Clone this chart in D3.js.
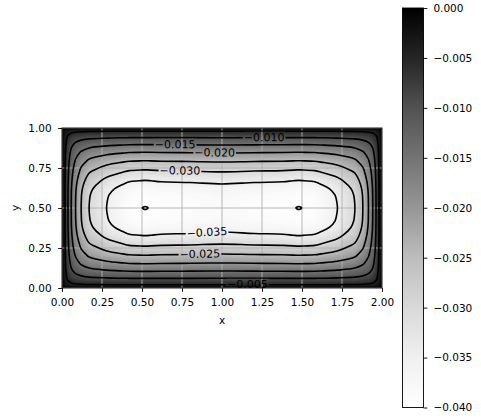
<!DOCTYPE html>
<html>
<head>
<meta charset="utf-8">
<script src="https://cdn.jsdelivr.net/npm/d3@7"></script>
<style>
  html, body { margin: 0; padding: 0; background: #fff; }
  svg text { font-family: "DejaVu Sans", sans-serif; fill: #000; }
</style>
</head>
<body>
<svg id="chart" width="481" height="419"></svg>
<script>
// Sample positions of the field (denser close to the walls and around the two minima)
const xNodes = [0, 0.019, 0.0375, 0.058, 0.085, 0.12, 0.17, 0.28, 0.38, 0.42, 0.52, 0.62, 0.8, 1.0,
                1.2, 1.38, 1.48, 1.58, 1.62, 1.72, 1.83, 1.88, 1.915, 1.942, 1.9625, 1.981, 2.0];
const yNodes = [0, 0.02, 0.06, 0.104, 0.152, 0.205, 0.262, 0.33, 0.38, 0.42, 0.48, 0.5,
                0.52, 0.58, 0.62, 0.67, 0.738, 0.795, 0.848, 0.896, 0.94, 0.98, 1.0];

// Field values u(x, y): one row per yNodes entry, bottom row first
const field = [
  [0, 0, 0, 0, 0, 0, 0, 0, 0, 0, 0, 0, 0, 0, 0, 0, 0, 0, 0, 0, 0, 0, 0, 0, 0, 0, 0],
  [0, -0.002671, -0.003643, -0.004146, -0.004453, -0.004660, -0.004810, -0.004922, -0.004978, -0.004997, -0.005008, -0.004997, -0.004991, -0.004981, -0.004991, -0.004997, -0.005008, -0.004997, -0.004978, -0.004922, -0.004810, -0.004660, -0.004453, -0.004146, -0.003643, -0.002671, 0],
  [0, -0.003643, -0.005726, -0.007074, -0.008018, -0.008716, -0.009253, -0.009680, -0.009898, -0.009972, -0.010015, -0.009972, -0.009951, -0.009911, -0.009951, -0.009972, -0.010015, -0.009972, -0.009898, -0.009680, -0.009253, -0.008716, -0.008018, -0.007074, -0.005726, -0.003643, 0],
  [0, -0.004146, -0.007074, -0.009253, -0.010938, -0.012279, -0.013371, -0.014282, -0.014761, -0.014925, -0.015023, -0.014925, -0.014879, -0.014790, -0.014879, -0.014925, -0.015023, -0.014925, -0.014761, -0.014282, -0.013371, -0.012279, -0.010938, -0.009253, -0.007074, -0.004146, 0],
  [0, -0.004453, -0.008018, -0.010938, -0.013371, -0.015432, -0.017198, -0.018735, -0.019568, -0.019858, -0.020030, -0.019858, -0.019776, -0.019619, -0.019776, -0.019858, -0.020030, -0.019858, -0.019568, -0.018735, -0.017198, -0.015432, -0.013371, -0.010938, -0.008018, -0.004453, 0],
  [0, -0.004660, -0.008716, -0.012279, -0.015432, -0.018243, -0.020764, -0.023046, -0.024319, -0.024769, -0.025038, -0.024769, -0.024642, -0.024399, -0.024642, -0.024769, -0.025038, -0.024769, -0.024319, -0.023046, -0.020764, -0.018243, -0.015432, -0.012279, -0.008716, -0.004660, 0],
  [0, -0.004810, -0.009253, -0.013371, -0.017198, -0.020764, -0.024094, -0.027223, -0.029016, -0.029659, -0.030045, -0.029659, -0.029477, -0.029131, -0.029477, -0.029659, -0.030045, -0.029659, -0.029016, -0.027223, -0.024094, -0.020764, -0.017198, -0.013371, -0.009253, -0.004810, 0],
  [0, -0.004925, -0.009689, -0.014302, -0.018770, -0.023098, -0.027295, -0.031380, -0.033788, -0.034663, -0.035192, -0.034663, -0.034415, -0.033943, -0.034415, -0.034663, -0.035192, -0.034663, -0.033788, -0.031380, -0.027295, -0.023098, -0.018770, -0.014302, -0.009689, -0.004925, 0],
  [0, -0.004978, -0.009898, -0.014761, -0.019568, -0.024319, -0.029016, -0.033677, -0.036465, -0.037486, -0.038105, -0.037486, -0.037196, -0.036646, -0.037196, -0.037486, -0.038105, -0.037486, -0.036465, -0.033677, -0.029016, -0.024319, -0.019568, -0.014761, -0.009898, -0.004978, 0],
  [0, -0.004998, -0.009977, -0.014937, -0.019878, -0.024801, -0.029705, -0.034609, -0.037560, -0.038644, -0.039303, -0.038644, -0.038336, -0.037752, -0.038336, -0.038644, -0.039303, -0.038644, -0.037560, -0.034609, -0.029705, -0.024801, -0.019878, -0.014937, -0.009977, -0.004998, 0],
  [0, -0.005006, -0.010010, -0.015011, -0.020010, -0.025006, -0.030001, -0.035009, -0.038032, -0.039144, -0.039820, -0.039144, -0.038828, -0.038230, -0.038828, -0.039144, -0.039820, -0.039144, -0.038032, -0.035009, -0.030001, -0.025006, -0.020010, -0.015011, -0.010010, -0.005006, 0],
  [0, -0.005008, -0.010015, -0.015023, -0.020030, -0.025038, -0.030045, -0.035070, -0.038105, -0.039222, -0.040170, -0.039222, -0.038904, -0.038303, -0.038904, -0.039222, -0.040170, -0.039222, -0.038105, -0.035070, -0.030045, -0.025038, -0.020030, -0.015023, -0.010015, -0.005008, 0],
  [0, -0.005006, -0.010010, -0.015011, -0.020010, -0.025006, -0.030001, -0.035009, -0.038032, -0.039144, -0.039820, -0.039144, -0.038828, -0.038230, -0.038828, -0.039144, -0.039820, -0.039144, -0.038032, -0.035009, -0.030001, -0.025006, -0.020010, -0.015011, -0.010010, -0.005006, 0],
  [0, -0.004998, -0.009977, -0.014937, -0.019878, -0.024801, -0.029705, -0.034609, -0.037560, -0.038644, -0.039303, -0.038644, -0.038336, -0.037752, -0.038336, -0.038644, -0.039303, -0.038644, -0.037560, -0.034609, -0.029705, -0.024801, -0.019878, -0.014937, -0.009977, -0.004998, 0],
  [0, -0.004978, -0.009898, -0.014761, -0.019568, -0.024319, -0.029016, -0.033677, -0.036465, -0.037486, -0.038105, -0.037486, -0.037196, -0.036646, -0.037196, -0.037486, -0.038105, -0.037486, -0.036465, -0.033677, -0.029016, -0.024319, -0.019568, -0.014761, -0.009898, -0.004978, 0],
  [0, -0.004925, -0.009689, -0.014302, -0.018770, -0.023098, -0.027295, -0.031380, -0.033788, -0.034663, -0.035192, -0.034663, -0.034415, -0.033943, -0.034415, -0.034663, -0.035192, -0.034663, -0.033788, -0.031380, -0.027295, -0.023098, -0.018770, -0.014302, -0.009689, -0.004925, 0],
  [0, -0.004810, -0.009253, -0.013371, -0.017198, -0.020764, -0.024094, -0.027223, -0.029016, -0.029659, -0.030045, -0.029659, -0.029477, -0.029131, -0.029477, -0.029659, -0.030045, -0.029659, -0.029016, -0.027223, -0.024094, -0.020764, -0.017198, -0.013371, -0.009253, -0.004810, 0],
  [0, -0.004660, -0.008716, -0.012279, -0.015432, -0.018243, -0.020764, -0.023046, -0.024319, -0.024769, -0.025038, -0.024769, -0.024642, -0.024399, -0.024642, -0.024769, -0.025038, -0.024769, -0.024319, -0.023046, -0.020764, -0.018243, -0.015432, -0.012279, -0.008716, -0.004660, 0],
  [0, -0.004453, -0.008018, -0.010938, -0.013371, -0.015432, -0.017198, -0.018735, -0.019568, -0.019858, -0.020030, -0.019858, -0.019776, -0.019619, -0.019776, -0.019858, -0.020030, -0.019858, -0.019568, -0.018735, -0.017198, -0.015432, -0.013371, -0.010938, -0.008018, -0.004453, 0],
  [0, -0.004146, -0.007074, -0.009253, -0.010938, -0.012279, -0.013371, -0.014282, -0.014761, -0.014925, -0.015023, -0.014925, -0.014879, -0.014790, -0.014879, -0.014925, -0.015023, -0.014925, -0.014761, -0.014282, -0.013371, -0.012279, -0.010938, -0.009253, -0.007074, -0.004146, 0],
  [0, -0.003643, -0.005726, -0.007074, -0.008018, -0.008716, -0.009253, -0.009680, -0.009898, -0.009972, -0.010015, -0.009972, -0.009951, -0.009911, -0.009951, -0.009972, -0.010015, -0.009972, -0.009898, -0.009680, -0.009253, -0.008716, -0.008018, -0.007074, -0.005726, -0.003643, 0],
  [0, -0.002671, -0.003643, -0.004146, -0.004453, -0.004660, -0.004810, -0.004922, -0.004978, -0.004997, -0.005008, -0.004997, -0.004991, -0.004981, -0.004991, -0.004997, -0.005008, -0.004997, -0.004978, -0.004922, -0.004810, -0.004660, -0.004453, -0.004146, -0.003643, -0.002671, 0],
  [0, 0, 0, 0, 0, 0, 0, 0, 0, 0, 0, 0, 0, 0, 0, 0, 0, 0, 0, 0, 0, 0, 0, 0, 0, 0, 0]
];

const contourLevels = [-0.040, -0.035, -0.030, -0.025, -0.020, -0.015, -0.010, -0.005];
const xTicks = [0, 0.25, 0.5, 0.75, 1.0, 1.25, 1.5, 1.75, 2.0];
const yTicks = [0, 0.25, 0.5, 0.75, 1.0];
const colorbarTicks = [0, -0.005, -0.010, -0.015, -0.020, -0.025, -0.030, -0.035, -0.040];
// "Greys" colour ramp, light (low values) to dark (high values)
const greysStops = ["#ffffff", "#f0f0f0", "#d9d9d9", "#bdbdbd", "#969696", "#737373", "#525252", "#252525", "#000000"];
// Where the inline contour labels sit (data coordinates)
const labelSpots = [
  { level: -0.015, x: 0.706, y: 0.894 },
  { level: -0.020, x: 0.953, y: 0.842 },
  { level: -0.010, x: 1.265, y: 0.9375 },
  { level: -0.030, x: 0.7375, y: 0.7375 },
  { level: -0.035, x: 0.906, y: 0.366 },
  { level: -0.025, x: 0.8625, y: 0.206 },
  { level: -0.005, x: 1.16, y: 0.033 }
];

const TICK_FONT = 10.5;
const LABEL_FONT = 11;
const plot = { left: 62, right: 382, top: 128, bottom: 288 };
const cbBox = { left: 402.5, width: 21, top: 8, bottom: 407.5 };

const svg = d3.select("#chart");
const defs = svg.append("defs");

const x = d3.scaleLinear().domain([0, 2]).range([plot.left, plot.right]);
const y = d3.scaleLinear().domain([0, 1]).range([plot.bottom, plot.top]);
const color = d3.scaleLinear()
  .domain(d3.range(9).map(i => -0.04 + i * 0.005))
  .range(greysStops)
  .clamp(true);

// grid-index space -> data space (non-uniform node spacing)
const nx = xNodes.length, ny = yNodes.length;
const colToX = d3.scaleLinear().domain(d3.range(nx)).range(xNodes).clamp(true);
const rowToY = d3.scaleLinear().domain(d3.range(ny)).range(yNodes).clamp(true);
const px = g => x(colToX(g - 0.5));
const py = g => y(rowToY(g - 0.5));

// contour on depth = -u so that every level encloses the interior
const depth = field.flat().map(v => -v);
const contourGen = d3.contours().size([nx, ny]);
const gridProjection = d3.geoTransform({
  point(a, b) { this.stream.point(px(a), py(b)); }
});
const geoPath = d3.geoPath(gridProjection);

defs.append("clipPath").attr("id", "plotClip")
  .append("rect")
  .attr("x", plot.left).attr("y", plot.top)
  .attr("width", plot.right - plot.left).attr("height", plot.bottom - plot.top);

// ---- shaded field ----
const fillG = svg.append("g").attr("clip-path", "url(#plotClip)");
fillG.append("rect")
  .attr("x", plot.left).attr("y", plot.top)
  .attr("width", plot.right - plot.left).attr("height", plot.bottom - plot.top)
  .attr("fill", color(0));
const bandStep = 0.0004;
const bandThresholds = d3.range(1, 101).map(i => i * bandStep);
fillG.selectAll("path.band")
  .data(contourGen.thresholds(bandThresholds)(depth))
  .join("path")
  .attr("class", "band")
  .attr("d", geoPath)
  .attr("fill", d => color(-(d.value + bandStep / 2)));

// ---- grid ----
const gridG = svg.append("g").attr("clip-path", "url(#plotClip)")
  .attr("stroke", "#b0b0b0").attr("stroke-width", 0.9);
gridG.selectAll("line.gx").data(xTicks).join("line")
  .attr("x1", d => x(d)).attr("x2", d => x(d))
  .attr("y1", plot.top).attr("y2", plot.bottom);
gridG.selectAll("line.gy").data(yTicks).join("line")
  .attr("y1", d => y(d)).attr("y2", d => y(d))
  .attr("x1", plot.left).attr("x2", plot.right);

// ---- contour lines ----
const mask = defs.append("mask").attr("id", "labelGaps")
  .attr("maskUnits", "userSpaceOnUse")
  .attr("x", 0).attr("y", 0).attr("width", 481).attr("height", 419);
mask.append("rect").attr("x", 0).attr("y", 0).attr("width", 481).attr("height", 419).attr("fill", "#fff");

const lineG = svg.append("g").attr("mask", "url(#labelGaps)")
  .attr("fill", "none").attr("stroke", "#000").attr("stroke-width", 1.6);
const ringLine = d3.line().curve(d3.curveCatmullRomClosed.alpha(0.5));

const levelSets = contourGen.thresholds(contourLevels.map(v => -v))(depth);
const ringPaths = [];
levelSets.forEach(set => {
  set.coordinates.forEach(poly => poly.forEach(ring => {
    const pts = [];
    ring.slice(0, -1).forEach(([a, b]) => {
      const p = [px(a), py(b)];
      const last = pts[pts.length - 1];
      if (!last || Math.hypot(p[0] - last[0], p[1] - last[1]) > 0.05) pts.push(p);
    });
    const path = lineG.append("path").attr("d", ringLine(pts));
    ringPaths.push({ level: -set.value, node: path.node() });
  }));
});

// ---- inline labels ----
const fmtLevel = d3.format(".3f");
const labelG = svg.append("g");
labelSpots.forEach(spot => {
  const tx = x(spot.x), ty = y(spot.y);
  let best = null;
  ringPaths.filter(r => Math.abs(r.level - spot.level) < 1e-9).forEach(r => {
    const len = r.node.getTotalLength();
    for (let s = 0; s <= len; s += 0.5) {
      const p = r.node.getPointAtLength(s);
      const dist = Math.hypot(p.x - tx, p.y - ty);
      if (!best || dist < best.dist) best = { dist, s, len, node: r.node, p };
    }
  });
  if (!best) return;
  const a = best.node.getPointAtLength((best.s - 5 + best.len) % best.len);
  const b = best.node.getPointAtLength((best.s + 5) % best.len);
  let ang = Math.atan2(b.y - a.y, b.x - a.x) * 180 / Math.PI;
  if (ang > 90) ang -= 180;
  if (ang < -90) ang += 180;
  const cx = best.p.x, cy = best.p.y;
  const t = labelG.append("text")
    .attr("x", cx).attr("y", cy)
    .attr("text-anchor", "middle")
    .attr("dominant-baseline", "central")
    .attr("font-size", LABEL_FONT)
    .attr("transform", `rotate(${ang},${cx},${cy})`)
    .text(fmtLevel(spot.level));
  const w = t.node().getComputedTextLength() + 2;
  mask.append("rect")
    .attr("x", cx - w / 2).attr("y", cy - LABEL_FONT * 0.55)
    .attr("width", w).attr("height", LABEL_FONT * 1.1)
    .attr("transform", `rotate(${ang},${cx},${cy})`)
    .attr("fill", "#000");
});

// ---- frame and axes ----
svg.append("rect")
  .attr("x", plot.left).attr("y", plot.top)
  .attr("width", plot.right - plot.left).attr("height", plot.bottom - plot.top)
  .attr("fill", "none").attr("stroke", "#000").attr("stroke-width", 0.9);

function styleAxis(g) {
  g.select(".domain").remove();
  g.selectAll(".tick line").attr("stroke", "#000").attr("stroke-width", 0.9);
  g.selectAll(".tick text").attr("font-size", TICK_FONT).attr("font-family", "DejaVu Sans").attr("fill", "#000");
}

svg.append("g")
  .attr("transform", `translate(0,${plot.bottom})`)
  .call(d3.axisBottom(x).tickValues(xTicks).tickFormat(d3.format(".2f")).tickSize(3.9).tickPadding(6.5))
  .call(styleAxis);
svg.append("g")
  .attr("transform", `translate(${plot.left},0)`)
  .call(d3.axisLeft(y).tickValues(yTicks).tickFormat(d3.format(".2f")).tickSize(3.9).tickPadding(6.5))
  .call(styleAxis);

svg.append("text").attr("x", (plot.left + plot.right) / 2).attr("y", 324)
  .attr("text-anchor", "middle").attr("font-size", TICK_FONT).text("x");
svg.append("text").attr("transform", `translate(19,${(plot.top + plot.bottom) / 2}) rotate(-90)`)
  .attr("text-anchor", "middle").attr("font-size", TICK_FONT).text("y");

// ---- colour bar ----
const grad = defs.append("linearGradient").attr("id", "cbGrad")
  .attr("x1", 0).attr("y1", 0).attr("x2", 0).attr("y2", 1);
greysStops.slice().reverse().forEach((c, i, arr) => {
  grad.append("stop").attr("offset", i / (arr.length - 1)).attr("stop-color", c);
});
const cb = d3.scaleLinear().domain([-0.04, 0]).range([cbBox.bottom, cbBox.top]);
svg.append("rect")
  .attr("x", cbBox.left).attr("y", cbBox.top)
  .attr("width", cbBox.width).attr("height", cbBox.bottom - cbBox.top)
  .attr("fill", "url(#cbGrad)").attr("stroke", "#000").attr("stroke-width", 0.9);
svg.append("g")
  .attr("transform", `translate(${cbBox.left + cbBox.width},0)`)
  .call(d3.axisRight(cb).tickValues(colorbarTicks).tickFormat(d3.format(".3f")).tickSize(3.9).tickPadding(6))
  .call(styleAxis);
</script>
</body>
</html>
